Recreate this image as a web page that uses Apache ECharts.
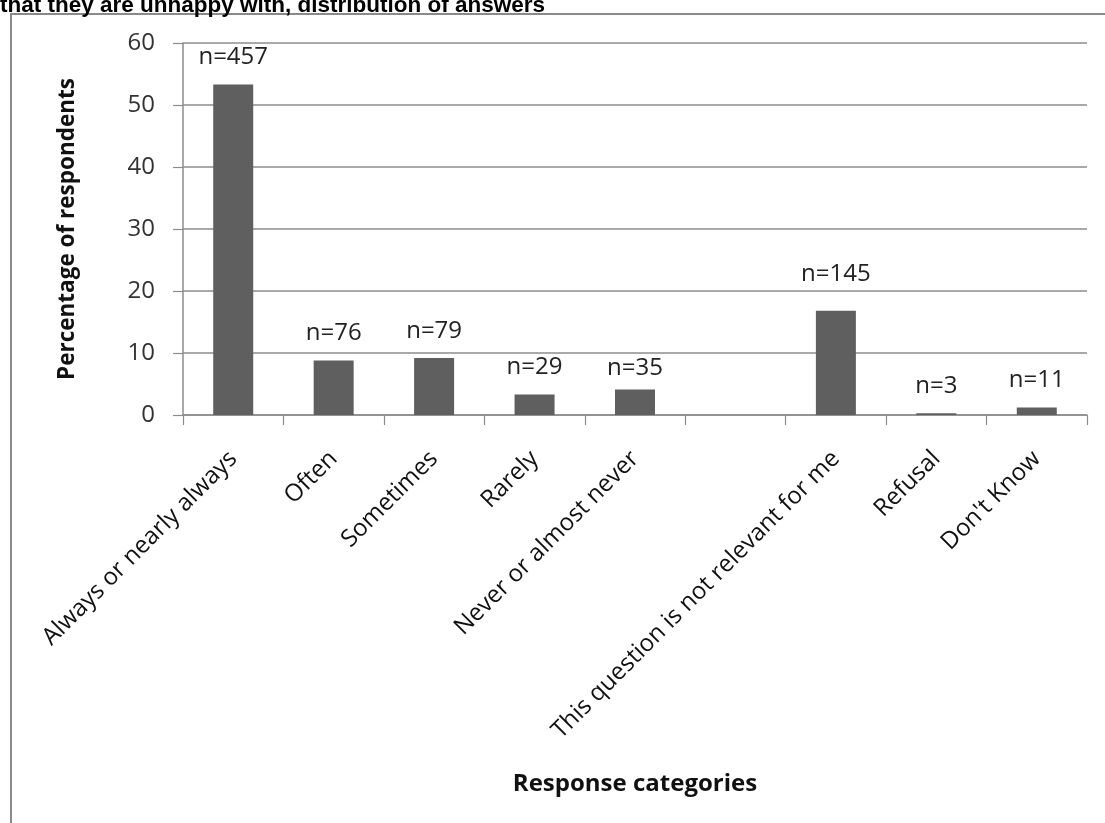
<!DOCTYPE html>
<html>
<head>
<meta charset="utf-8">
<script src="https://cdn.jsdelivr.net/npm/echarts@6/dist/echarts.min.js"></script>
<style>
  html, body { margin: 0; padding: 0; background: #ffffff; }
  #chart { width: 1105px; height: 823px; }
</style>
</head>
<body>
<div id="chart"></div>
<script>
// Response categories (the sixth slot is intentionally left blank)
const categories = [
  'Always or nearly always',
  'Often',
  'Sometimes',
  'Rarely',
  'Never or almost never',
  '',
  'This question is not relevant for me',
  'Refusal',
  "Don't Know"
];

// Percentage of respondents per category
const percentages = [53.3, 8.8, 9.2, 3.3, 4.1, null, 16.8, 0.3, 1.2];

// Number of respondents per category
const counts = [457, 76, 79, 29, 35, null, 145, 3, 11];

// Gap between each count label and its bar
const labelGaps = [15, 15, 15, 15, 9, 0, 25, 15, 15];

// Y axis ticks
const yMin = 0, yMax = 60, yStep = 10;

const chart = echarts.init(document.getElementById('chart'), null, { renderer: 'canvas' });

const textFont = '"Open Sans", "DejaVu Sans", sans-serif';

const barData = percentages.map((v, i) => ({
  value: v,
  label: { distance: labelGaps[i] }
}));

chart.setOption({
  animation: false,
  backgroundColor: '#ffffff',
  grid: { left: 183, right: 18, top: 43, bottom: 408, containLabel: false },
  graphic: [
    {
      type: 'rect',
      shape: { x: 11, y: 14, width: 1200, height: 900 },
      style: { fill: 'none', stroke: '#8a8a8a', lineWidth: 2 },
      silent: true, z: -1
    },
    {
      type: 'text',
      x: 0, y: -6,
      style: {
        text: 'that they are unhappy with, distribution of answers',
        font: 'bold 22.5px "Liberation Sans", Arial, sans-serif',
        fill: '#000000'
      },
      silent: true
    }
  ],
  xAxis: {
    type: 'category',
    data: categories,
    boundaryGap: true,
    axisLine: { show: true, lineStyle: { color: '#8c8c8c', width: 1.5 } },
    axisTick: { show: true, length: 10, lineStyle: { color: '#8c8c8c', width: 1.2 } },
    axisLabel: {
      interval: 0,
      rotate: 45,
      margin: 40,
      fontFamily: textFont,
      fontSize: 24,
      color: '#111111'
    },
    name: 'Response categories',
    nameLocation: 'middle',
    nameGap: 357,
    nameTextStyle: {
      fontFamily: textFont,
      fontWeight: 'bold',
      fontSize: 24,
      color: '#111111'
    }
  },
  yAxis: {
    type: 'value',
    min: yMin,
    max: yMax,
    interval: yStep,
    axisLine: { show: true, lineStyle: { color: '#8c8c8c', width: 1.5 } },
    axisTick: { show: true, length: 10, lineStyle: { color: '#8c8c8c', width: 1.2 } },
    splitLine: { show: true, lineStyle: { color: '#8c8c8c', width: 1.5 } },
    axisLabel: {
      margin: 28,
      fontFamily: textFont,
      fontSize: 24,
      color: '#333333'
    },
    name: 'Percentage of respondents',
    nameLocation: 'middle',
    nameRotate: 90,
    nameGap: 104,
    nameTextStyle: {
      fontFamily: textFont,
      fontWeight: 'bold',
      fontSize: 22.5,
      color: '#111111'
    }
  },
  series: [{
    type: 'bar',
    data: barData,
    barWidth: 40,
    itemStyle: { color: '#5f5f5f' },
    label: {
      show: true,
      position: 'top',
      fontFamily: textFont,
      fontSize: 24,
      color: '#222222',
      formatter: p => counts[p.dataIndex] == null ? '' : 'n=' + counts[p.dataIndex]
    }
  }]
});
</script>
</body>
</html>
